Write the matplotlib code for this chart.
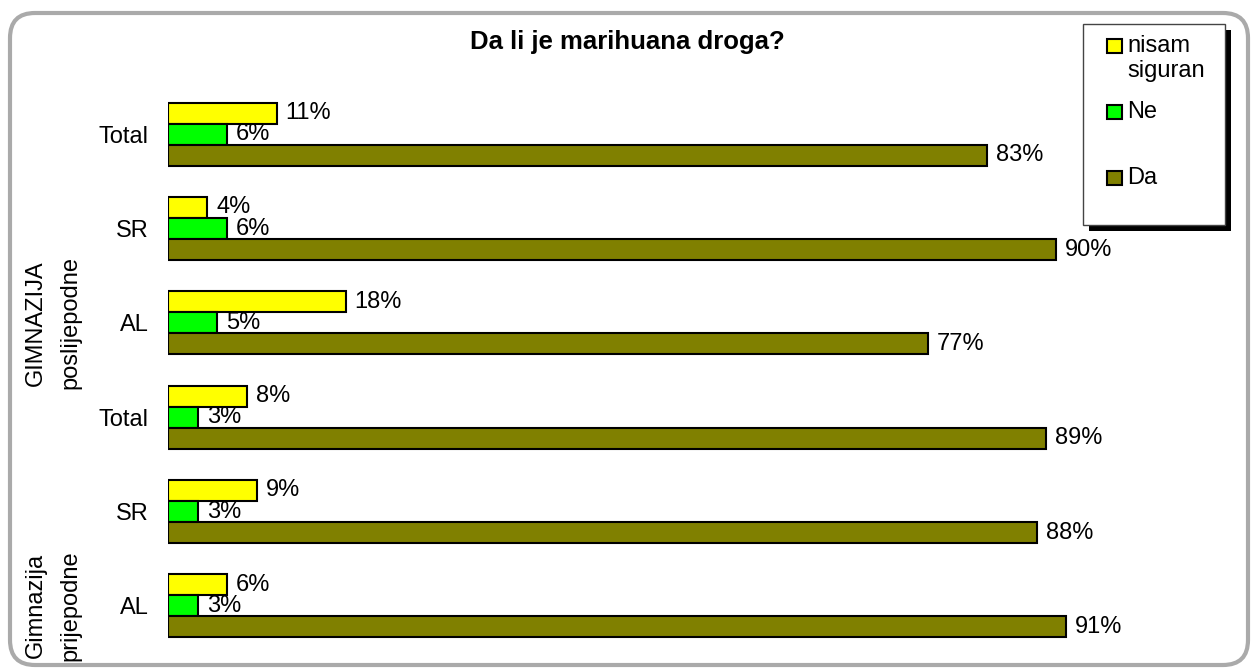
import numpy as np
import matplotlib
matplotlib.use('Agg')
import matplotlib.pyplot as plt
from matplotlib.patches import FancyBboxPatch, Rectangle
from matplotlib import transforms

plt.rcParams['font.family'] = ['Liberation Sans', 'DejaVu Sans']

# data
categories = ['Total', 'SR', 'AL', 'Total', 'SR', 'AL']
group_names = ['GIMNAZIJA\nposlijepodne', 'Gimnazija\nprijepodne']
nisam_siguran = [11, 4, 18, 8, 9, 6]
ne = [6, 6, 5, 3, 3, 3]
da = [83, 90, 77, 89, 88, 91]
series_names = ['nisam\nsiguran', 'Ne', 'Da']
colors = ['#FFFF00', '#00FF00', '#808000']
title = 'Da li je marihuana droga?'

W, H = 1255, 671
FS = 17
fig = plt.figure(figsize=(W / 100, H / 100), dpi=100)


def fx(x):
    return x / W


def fy(y):
    return 1 - y / H


# rounded chart-area border (behind everything)
border = FancyBboxPatch((0.10, 0.06), 12.38, 6.52,
                        boxstyle='round,pad=0,rounding_size=0.25',
                        transform=fig.dpi_scale_trans, facecolor='white',
                        edgecolor='#aaaaaa', linewidth=3, zorder=-5)
fig.patches.append(border)

ax = fig.add_axes([fx(168), fy(653), fx(987), 566 / H])
ax.set_facecolor('none')

y = np.arange(len(categories))
h = 0.223
for i, vals in enumerate([nisam_siguran, ne, da]):
    pos = y + (i - 1) * h
    ax.barh(pos, vals, height=h, color=colors[i], edgecolor='black',
            linewidth=1.5, zorder=3)
    for p, v in zip(pos, vals):
        ax.annotate(f'{v}%', (v, p), xytext=(6.5, 0), textcoords='offset points',
                    ha='left', va='center', fontsize=FS)

ax.set_xlim(0, 100)
ax.set_ylim(len(categories) - 0.5, -0.5)
ax.set_yticks(y)
ax.set_yticklabels(categories, fontsize=FS)
ax.set_xticks([])
ax.tick_params(axis='y', length=0, pad=14)
for s in ax.spines.values():
    s.set_visible(False)

# group labels of the category axis
trans = transforms.blended_transform_factory(ax.transAxes, ax.transData)
for name, yy in zip(group_names, [2, 5]):
    ax.text(-0.1165, yy, name, transform=trans, rotation=90, ha='center',
            va='center', fontsize=FS, linespacing=1.7)

fig.text(0.5, fy(42), title, ha='center', va='center', fontsize=18.5,
         fontweight='bold')

# legend box with shadow
fig.patches.append(Rectangle((fx(1089), fy(231)), fx(142), 201 / H,
                             transform=fig.transFigure, facecolor='black',
                             edgecolor='none', zorder=4))
fig.patches.append(Rectangle((fx(1083), fy(225)), fx(142), 201 / H,
                             transform=fig.transFigure, facecolor='white',
                             edgecolor='#444444', linewidth=1, zorder=5))
for k, (name, c) in enumerate(zip(series_names, colors)):
    yc = 46 + 66 * k
    fig.patches.append(Rectangle((fx(1107), fy(yc + 7)), fx(15), 14 / H,
                                 transform=fig.transFigure, facecolor=c,
                                 edgecolor='black', linewidth=1.5, zorder=6))
    fig.text(fx(1127), fy(yc - 11), name, ha='left', va='top', fontsize=FS,
             zorder=7)

fig.savefig('out.png', dpi=100)
